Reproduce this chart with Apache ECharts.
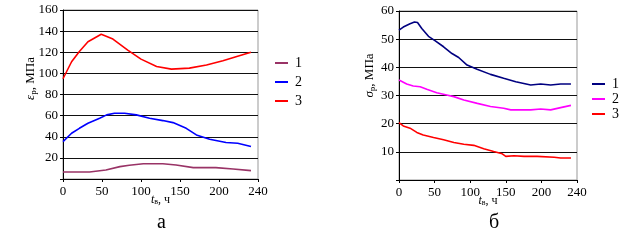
<!DOCTYPE html>
<html>
<head>
<meta charset="utf-8">
<script src="https://cdn.jsdelivr.net/npm/echarts@6/dist/echarts.min.js"></script>
<style>html,body{margin:0;padding:0;background:#fff}#c{width:624px;height:245px}</style>
</head>
<body>
<div id="c"></div>
<script>
// Chart "а" (left)
const tA1 = [0, 34, 55, 73, 85, 103, 128, 145, 167, 196, 218, 241];
const vA1 = [6.6, 6.6, 8.5, 11.7, 13, 14.5, 14.5, 13.3, 10.8, 10.8, 9.5, 7.9];
const tA2 = [0, 11, 21, 32, 47, 56, 66, 79, 94, 111, 128, 141, 158, 171, 188, 209, 224, 241];
const vA2 = [35.4, 43.3, 48, 52.8, 57.5, 60.7, 62.3, 62.3, 60.7, 57.5, 55.3, 53.4, 48, 41.7, 37.6, 34.5, 33.8, 30.7];
const tA3 = [0, 11, 21, 32, 49, 64, 83, 100, 120, 139, 162, 184, 205, 226, 241];
const vA3 = [94.9, 111, 120.8, 130, 137, 132.5, 122, 113.5, 106.5, 104, 105, 108, 112, 116.7, 120];
// Chart "б" (right)
const tB1 = [0, 6, 15.5, 21.7, 26, 32, 41.4, 51, 62.6, 74.4, 83.8, 95.6, 109.7, 128.5, 147, 164, 185, 199, 213, 227, 241.5];
const vB1 = [53.2, 54.3, 55.5, 56.1, 55.9, 53.8, 51, 49.4, 47.3, 44.9, 43.5, 40.8, 39.3, 37.5, 36.1, 34.9, 33.7, 34.1, 33.7, 34.1, 34.1];
const tB2 = [0, 10.8, 20, 29.7, 39, 53, 67, 77, 91, 110, 128.5, 147, 157, 185, 199, 213, 227, 241.5];
const vB2 = [35.5, 34.1, 33.4, 33.1, 32.2, 31, 30.2, 29.6, 28.4, 27.2, 26.1, 25.5, 24.9, 24.9, 25.2, 24.9, 25.7, 26.5];
const tB3 = [0, 6, 15.5, 25, 34, 48.5, 62.6, 77, 91, 105, 119, 133, 145, 150, 161.5, 175.6, 194, 218, 227, 241.5];
const vB3 = [20.4, 19.2, 18.4, 16.9, 16, 15.1, 14.3, 13.3, 12.7, 12.3, 11.1, 10.1, 9.3, 8.4, 8.6, 8.4, 8.4, 8.1, 7.8, 7.8];
const xTicks = [0, 50, 100, 150, 200, 240];
const legendNames = ['1', '2', '3'];
const colorsA = ['#993366', '#0000ff', '#ff0000'];
const colorsB = ['#000080', '#ff00ff', '#ff0000'];

const zip = (t, v) => t.map((x, i) => [x, v[i]]);
const FONT = 'Liberation Serif';
const chart = echarts.init(document.getElementById('c'));

function xAxis(gi, name) {
  return {
    type: 'value', gridIndex: gi, min: 0, max: 250, interval: 50,
    axisLine: {show: true, lineStyle: {color: '#000', width: 1}},
    axisTick: {show: true, length: 3, lineStyle: {color: '#000'}},
    splitLine: {show: false},
    axisLabel: {color: '#000', fontFamily: FONT, fontSize: 13, margin: 6,
      formatter: v => { const i = Math.round(v / 50); return String(xTicks[i]); }},
    name: name, nameLocation: 'middle', nameGap: 15, nameMoveOverlap: false,
    nameTextStyle: {color: '#000', fontFamily: FONT, fontSize: 12, rich: {
      i: {fontFamily: FONT, fontStyle: 'italic', fontSize: 12, color: '#000'},
      s: {fontFamily: FONT, fontSize: 8, color: '#000', padding: [4, 0, 0, 0]},
      n: {fontFamily: FONT, fontSize: 12, color: '#000'}
    }}
  };
}
function yAxis(gi, max, interval, name, gap, pad) {
  return {
    type: 'value', gridIndex: gi, min: 0, max: max, interval: interval,
    axisLine: {show: true, lineStyle: {color: '#000', width: 1}},
    axisTick: {show: true, length: 3, lineStyle: {color: '#000'}},
    splitLine: {show: true, lineStyle: {color: '#111', width: 1}},
    axisLabel: {color: '#000', fontFamily: FONT, fontSize: 13, margin: 5,
      formatter: v => v === 0 ? '' : String(v)},
    name: name, nameLocation: 'middle', nameGap: gap, nameRotate: 90, nameMoveOverlap: false,
    nameTextStyle: {color: '#000', fontFamily: FONT, fontSize: 13, padding: pad, rich: {
      i: {fontFamily: FONT, fontStyle: 'italic', fontSize: 13, color: '#000'},
      s: {fontFamily: FONT, fontSize: 9, color: '#000', padding: [5, 0, 0, 0]},
      n: {fontFamily: FONT, fontSize: 13, color: '#000'}
    }}
  };
}
function lineSeries(name, xi, data, color) {
  return {type: 'line', name: name, xAxisIndex: xi, yAxisIndex: xi, data: data,
    symbol: 'none', smooth: false, lineStyle: {color: color, width: 1.6}, itemStyle: {color: color},
    animation: false};
}
function legend(prefix, left, top, gap) {
  return {orient: 'vertical', left: left, top: top, itemGap: gap, itemWidth: 13, itemHeight: 2,
    icon: 'rect', data: legendNames.map(n => prefix + n), selectedMode: false,
    formatter: n => n.slice(1),
    textStyle: {fontFamily: FONT, fontSize: 14, color: '#000', padding: [0, 0, 0, 2]}};
}

chart.setOption({
  animation: false,
  title: [
    {text: 'а', left: 152, top: 208, textStyle: {fontFamily: FONT, fontSize: 20, fontWeight: 'normal', color: '#000'}},
    {text: 'б', left: 484, top: 208, textStyle: {fontFamily: FONT, fontSize: 20, fontWeight: 'normal', color: '#000'}}
  ],
  grid: [
    {left: 63, top: 10, width: 195, height: 169, show: true, borderColor: '#999', borderWidth: 1, backgroundColor: 'transparent'},
    {left: 399, top: 11, width: 178, height: 169, show: true, borderColor: '#999', borderWidth: 1, backgroundColor: 'transparent'}
  ],
  legend: [legend('a', 270, 51, 5), legend('b', 587, 72, 1)],
  xAxis: [xAxis(0, '{i|t}{s|в}{n|, ч}'), xAxis(1, '{i|t}{s|в}{n|, ч}')],
  yAxis: [yAxis(0, 160, 20, '{i|ε}{s|р}{n|, МПа}', 25, [0, 0, 0, 32]),
          yAxis(1, 60, 10, '{i|σ}{s|р}{n|, МПа}', 22, [0, 0, 0, 40])],
  series: [
    lineSeries('a1', 0, zip(tA1, vA1), colorsA[0]),
    lineSeries('a2', 0, zip(tA2, vA2), colorsA[1]),
    lineSeries('a3', 0, zip(tA3, vA3), colorsA[2]),
    lineSeries('b1', 1, zip(tB1, vB1), colorsB[0]),
    lineSeries('b2', 1, zip(tB2, vB2), colorsB[1]),
    lineSeries('b3', 1, zip(tB3, vB3), colorsB[2])
  ]
});
</script>
</body>
</html>
